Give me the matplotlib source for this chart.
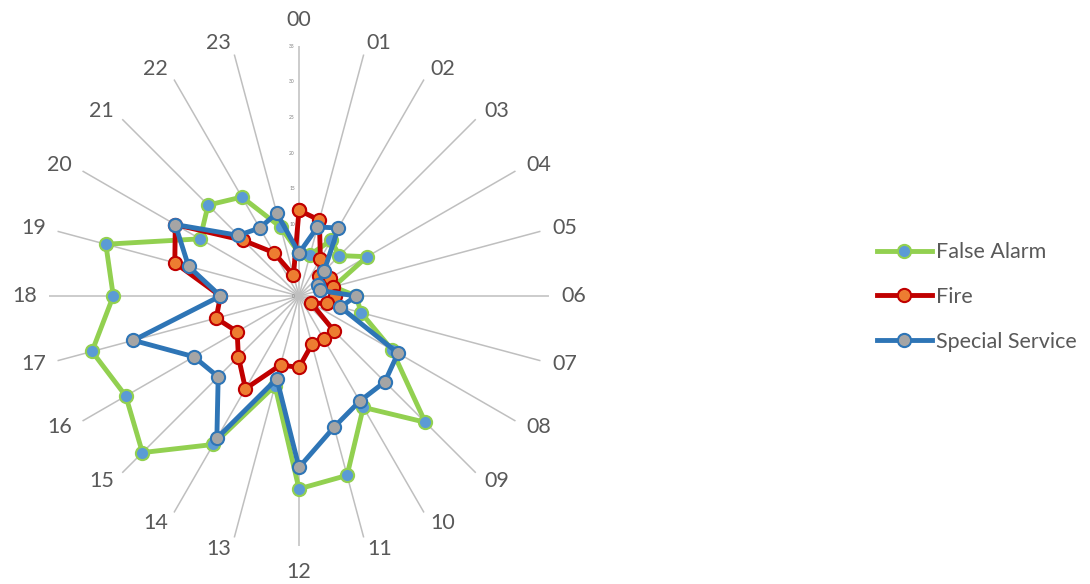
import numpy as np
import matplotlib
matplotlib.use("Agg")
import matplotlib.pyplot as plt
from matplotlib.lines import Line2D

plt.rcParams['font.family'] = ['Lato', 'DejaVu Sans']

hours = [f"{h:02d}" for h in range(24)]

false_alarm = [6, 6, 9, 8, 11, 5, 8, 9, 15, 25, 18, 26,
               27, 13, 24, 31, 28, 30, 26, 28, 16, 18, 16, 10]
fire = [12, 11, 6, 4, 5, 5, 5, 4, 2, 7, 7, 7,
        10, 10, 15, 12, 10, 12, 11, 18, 20, 11, 7, 3]
special_service = [6, 10, 11, 5, 3, 3, 8, 6, 16, 17, 17, 19,
                   24, 12, 23, 16, 17, 24, 11, 16, 20, 12, 11, 12]

radial_ticks = [0, 5, 10, 15, 20, 25, 30, 35]
r_max = 35

series = [
    ("False Alarm", false_alarm, "#92D050", "#5B9BD5", "#92D050"),
    ("Fire", fire, "#C00000", "#ED7D31", "#C00000"),
    ("Special Service", special_service, "#2E75B6", "#A5A5A5", "#2E75B6"),
]

DPI = 100
PX = 72 / DPI  # points per pixel

fig = plt.figure(figsize=(10.9, 5.84), dpi=DPI)
ax = fig.add_axes([49 / 1090, 38 / 584, 500 / 1090, 500 / 584], projection="polar")
ax.set_theta_zero_location("N")
ax.set_theta_direction(-1)
ax.set_ylim(0, r_max)
ax.grid(False)
ax.set_xticks([])
ax.set_yticks([])
ax.spines["polar"].set_visible(False)
ax.patch.set_alpha(0)

angles_deg = np.arange(len(hours)) * 360 / len(hours)
theta = np.deg2rad(angles_deg)

# spokes
for t in theta:
    ax.plot([t, t], [0, r_max], color="#BFBFBF", lw=1.1, zorder=1)

# hour labels just beyond the spoke ends
for t, deg, lab in zip(theta, angles_deg, hours):
    dx, dy = np.sin(t), np.cos(t)
    if deg % 180 == 0:
        ha, off = "center", 26
    else:
        ha, off = ("left" if deg < 180 else "right"), 12
    ax.annotate(lab, xy=(t, r_max), xytext=(dx * off * PX, dy * off * PX),
                textcoords="offset points", ha=ha, va="center",
                fontsize=15.5, color="#595959", annotation_clip=False)

# radial value labels along the 00 spoke
for v in radial_ticks:
    ax.annotate(str(v), xy=(0, v), xytext=(-3, 0), textcoords="offset points",
                ha="right", va="center", fontsize=3.5, color="#7F7F7F")

handles = []
for name, vals, lc, mfc, mec in series:
    tt = np.append(theta, theta[0])
    vv = np.append(vals, vals[0])
    ax.plot(tt, vv, color=lc, lw=3.5, marker="o", markersize=9.5,
            markerfacecolor=mfc, markeredgecolor=mec, markeredgewidth=1.5,
            zorder=3, clip_on=False, solid_joinstyle="round")
    handles.append(Line2D([0], [0], color=lc, lw=3.5, marker="o", markersize=9.5,
                          markerfacecolor=mfc, markeredgecolor=mec,
                          markeredgewidth=1.5))

fig.legend(handles, [s[0] for s in series], loc="center left",
           bbox_to_anchor=(877 / 1090, 1 - 297 / 584), frameon=False,
           borderpad=0, borderaxespad=0,
           fontsize=15.5, labelcolor="#595959", handlelength=2.55,
           handletextpad=0.2, labelspacing=1.15)

fig.savefig("out.png", dpi=DPI)
